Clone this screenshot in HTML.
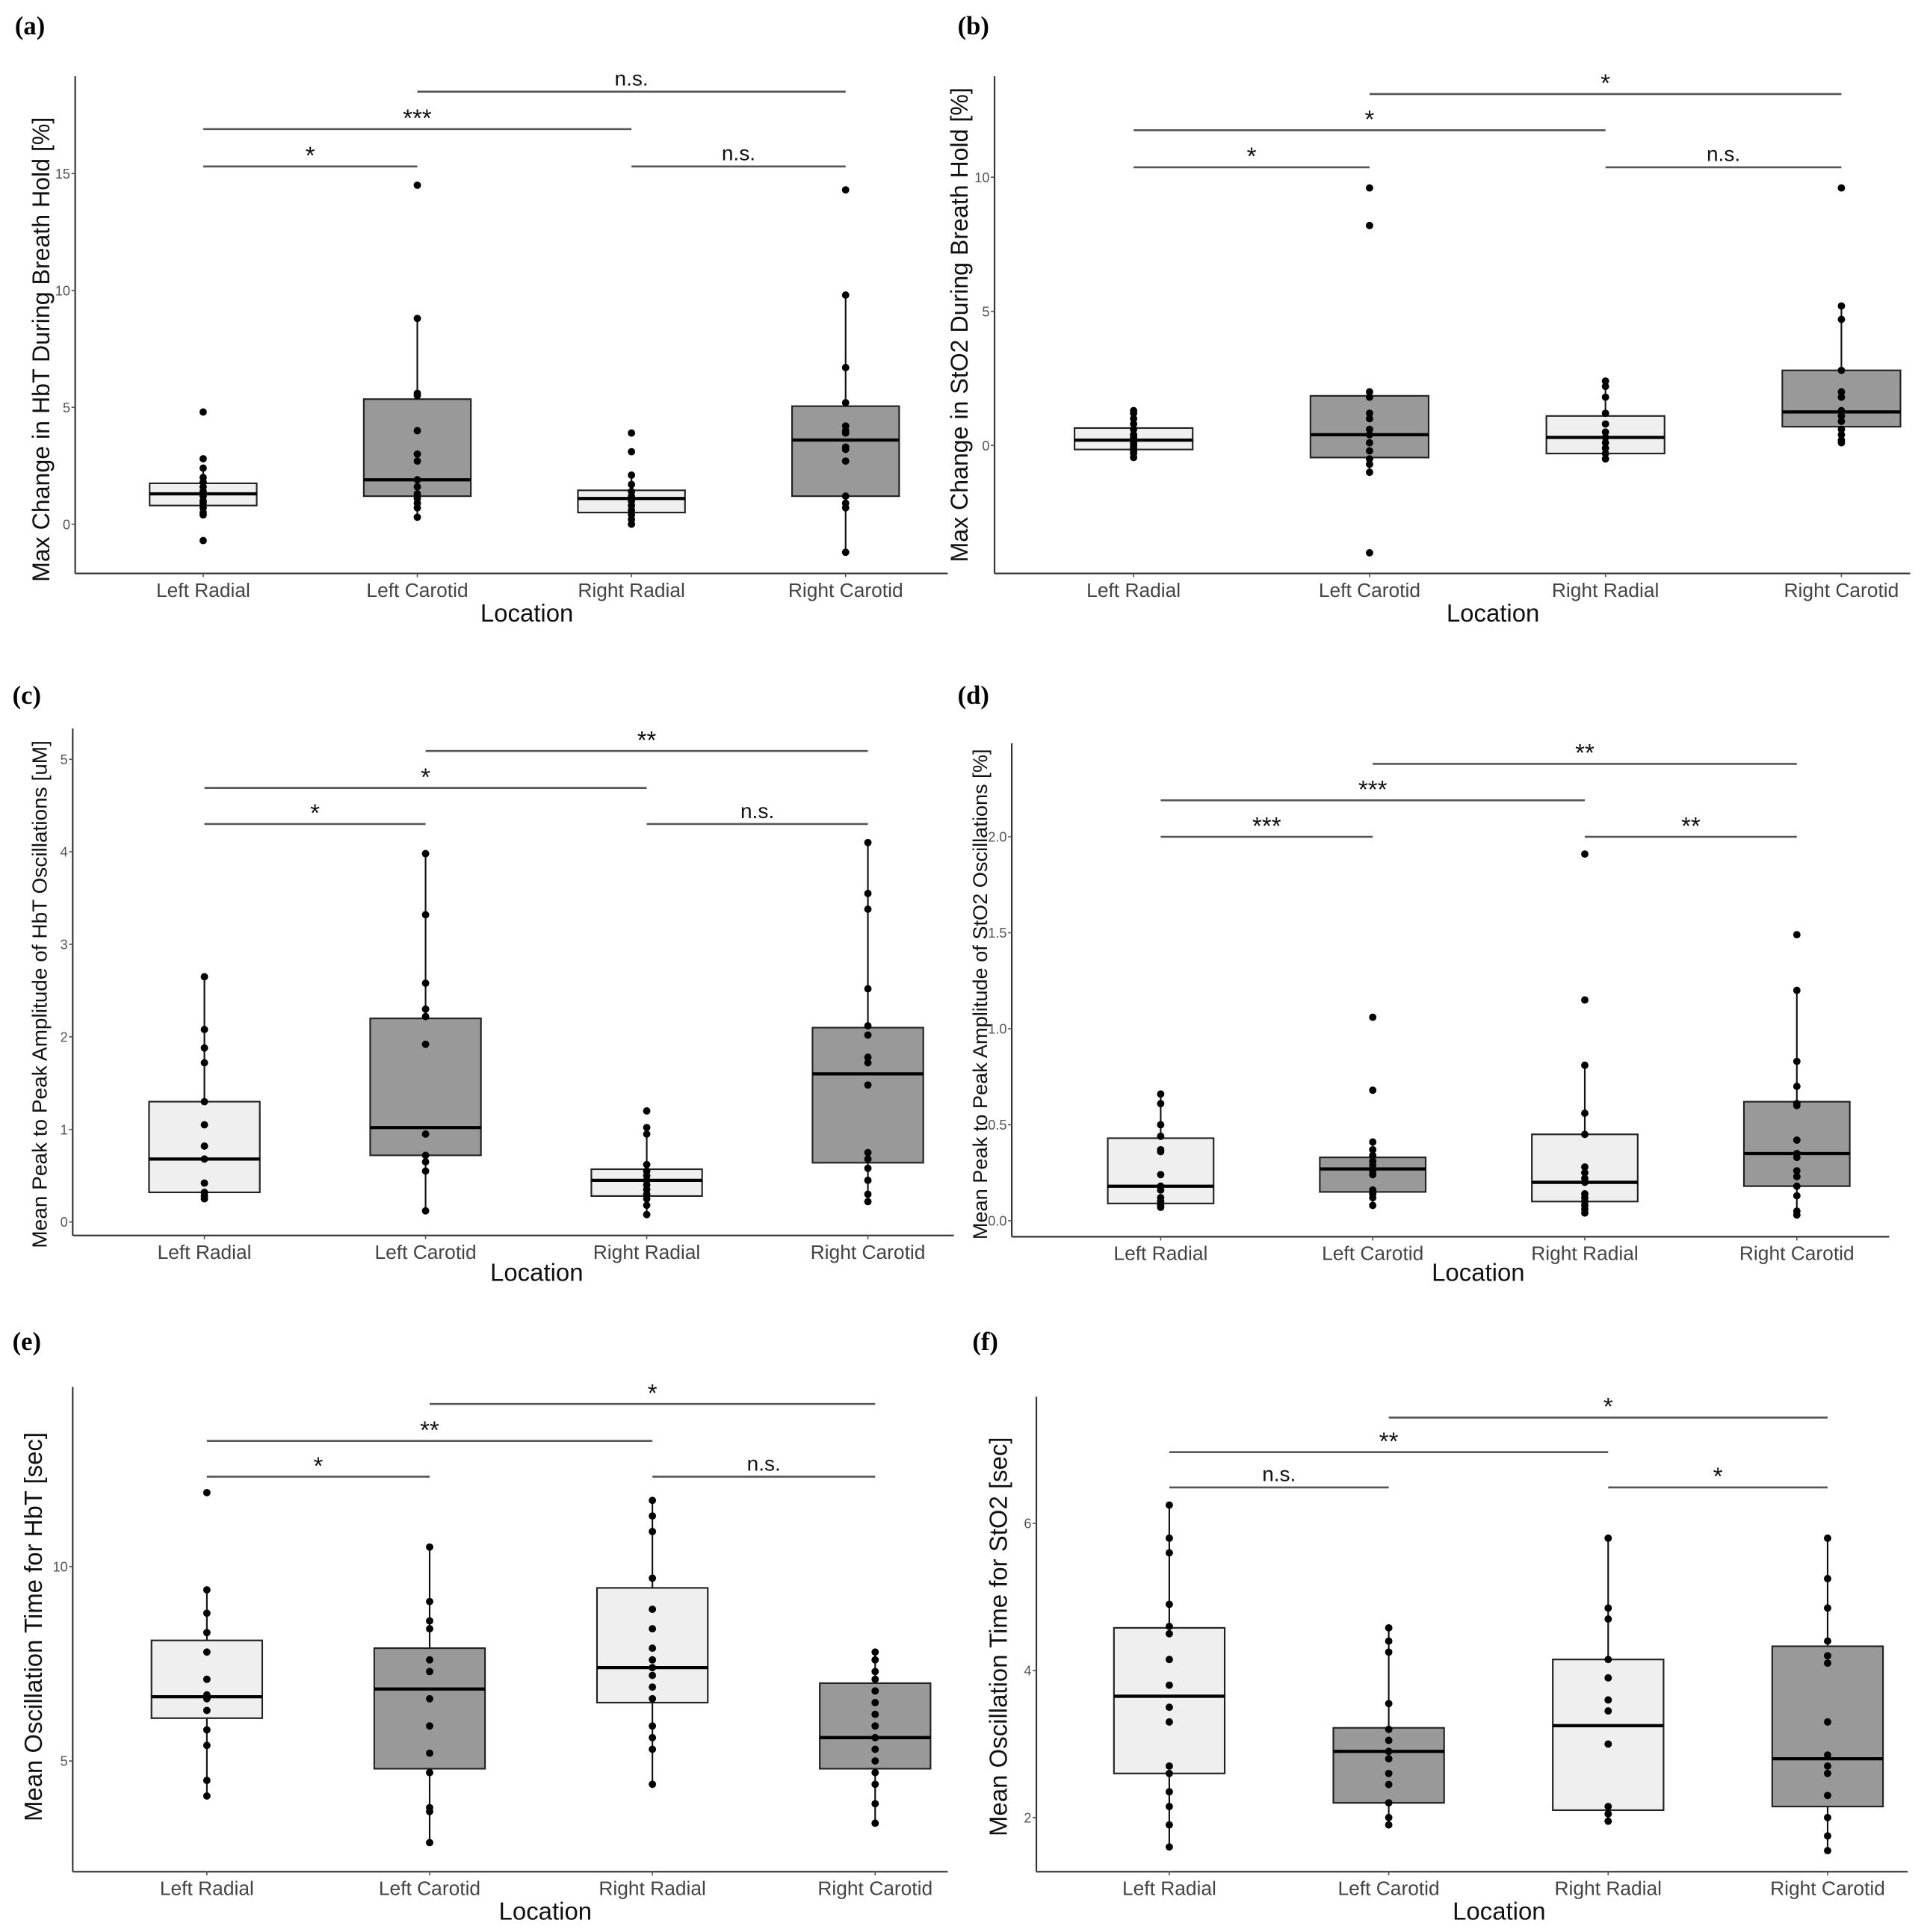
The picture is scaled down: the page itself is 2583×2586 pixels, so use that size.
<!DOCTYPE html>
<html><head><meta charset="utf-8">
<style>
html,body{margin:0;padding:0;background:#fff;}
svg{display:block;}
text{font-family:"Liberation Sans",sans-serif;}
</style></head>
<body>
<svg id="fig" width="2583" height="2586" viewBox="0 0 1568 1570" xmlns="http://www.w3.org/2000/svg"></svg>
<script>
const categories = ["Left Radial","Left Carotid","Right Radial","Right Carotid"];
const fills = ["#efefef","#999999","#efefef","#999999"];

// box stats per panel: [q1, median, q3, whiskerLow, whiskerHigh]
const boxesA = [[0.8,1.3,1.75,0.4,2.4],[1.2,1.9,5.35,0.3,8.8],[0.5,1.1,1.45,0,2.1],[1.2,3.6,5.05,-1.2,9.8]];
const pointsA = [[4.8,2.8,2.4,2.0,1.8,1.6,1.4,1.3,1.2,1.0,0.9,0.7,0.5,0.4,-0.7],
  [14.5,8.8,5.6,5.5,4.0,3.0,2.7,1.9,1.6,1.3,1.1,0.9,0.7,0.3],
  [3.9,3.1,2.1,1.7,1.4,1.2,1.0,0.8,0.6,0.4,0.2,0.0],
  [14.3,9.8,6.7,5.2,4.2,4.0,3.9,3.3,3.2,2.7,1.2,0.9,0.7,-1.2]];
const ticksA = [0,5,10,15];
const bracketsA = [[1,3,18.5,"n.s."],[0,2,16.9,"***"],[0,1,15.3,"*"],[2,3,15.3,"n.s."]];

const boxesB = [[-0.15,0.2,0.65,-0.45,1.3],[-0.45,0.4,1.85,-1.0,2.0],[-0.3,0.3,1.1,-0.5,2.4],[0.7,1.25,2.8,0.1,5.2]];
const pointsB = [[1.3,1.2,1.0,0.8,0.6,0.4,0.3,0.2,0.1,0,-0.1,-0.2,-0.3,-0.45],
  [9.6,8.2,2.0,1.8,1.2,1.0,0.6,0.4,0.1,-0.2,-0.5,-0.7,-1.0,-4.0],
  [2.4,2.2,1.8,1.2,0.8,0.5,0.3,0.1,-0.1,-0.3,-0.5],
  [9.6,5.2,4.7,2.8,2.0,1.8,1.3,1.1,0.9,0.6,0.4,0.2,0.1]];
const ticksB = [0,5,10];
const bracketsB = [[1,3,13.1,"*"],[0,2,11.75,"*"],[0,1,10.37,"*"],[2,3,10.37,"n.s."]];

const boxesC = [[0.32,0.68,1.3,0.25,2.65],[0.72,1.02,2.2,0.12,3.98],[0.28,0.45,0.57,0.08,1.02],[0.64,1.6,2.1,0.22,4.1]];
const pointsC = [[2.65,2.08,1.88,1.72,1.3,1.05,0.82,0.68,0.42,0.32,0.28,0.25],
  [3.98,3.32,2.58,2.3,2.22,1.92,0.95,0.72,0.65,0.55,0.12],
  [1.2,1.02,0.95,0.62,0.55,0.5,0.45,0.4,0.35,0.3,0.25,0.18,0.08],
  [4.1,3.55,3.38,2.52,2.12,2.02,1.78,1.72,1.48,0.75,0.68,0.58,0.45,0.3,0.22]];
const ticksC = [0,1,2,3,4,5];
const bracketsC = [[1,3,5.09,"**"],[0,2,4.69,"*"],[0,1,4.30,"*"],[2,3,4.30,"n.s."]];

const boxesD = [[0.09,0.18,0.43,0.07,0.66],[0.15,0.27,0.33,0.08,0.41],[0.1,0.2,0.45,0.04,0.81],[0.18,0.35,0.62,0.03,1.2]];
const pointsD = [[0.66,0.61,0.5,0.44,0.37,0.36,0.24,0.18,0.16,0.12,0.1,0.08,0.07],
  [1.06,0.68,0.41,0.37,0.34,0.31,0.29,0.26,0.24,0.16,0.14,0.12,0.08],
  [1.91,1.15,0.81,0.56,0.45,0.28,0.25,0.22,0.2,0.14,0.12,0.1,0.08,0.06,0.04],
  [1.49,1.2,0.83,0.7,0.61,0.6,0.42,0.35,0.33,0.26,0.23,0.18,0.13,0.05,0.03]];
const ticksD = [0,0.5,1.0,1.5,2.0];
const bracketsD = [[1,3,2.38,"**"],[0,2,2.19,"***"],[0,1,2.0,"***"],[2,3,2.0,"**"]];

const boxesE = [[6.1,6.65,8.1,4.1,9.4],[4.8,6.85,7.9,2.9,10.5],[6.5,7.4,9.45,4.4,11.7],[4.8,5.6,7.0,3.4,7.8]];
const pointsE = [[11.9,9.4,8.8,8.3,7.8,7.1,6.7,6.6,6.3,5.8,5.4,4.5,4.1],
  [10.5,9.1,8.6,8.4,7.6,7.3,6.6,5.9,5.2,4.7,3.8,3.7,2.9],
  [11.7,11.3,10.9,9.7,8.9,8.4,7.9,7.6,7.4,7.2,6.9,6.6,5.9,5.6,5.3,4.4],
  [7.8,7.6,7.3,7.1,6.8,6.5,6.2,5.9,5.6,5.3,5.0,4.7,4.4,3.9,3.4]];
const ticksE = [5,10];
const bracketsE = [[1,3,14.18,"*"],[0,2,13.23,"**"],[0,1,12.31,"*"],[2,3,12.31,"n.s."]];

const boxesF = [[2.6,3.65,4.58,1.6,6.25],[2.2,2.9,3.22,1.9,4.58],[2.1,3.25,4.15,1.95,5.8],[2.15,2.8,4.33,1.55,5.8]];
const pointsF = [[6.25,5.8,5.6,4.9,4.6,4.5,4.15,3.8,3.5,3.3,2.7,2.6,2.35,2.15,1.9,1.6],
  [4.58,4.4,4.25,3.55,3.2,3.05,2.9,2.8,2.6,2.45,2.2,2.0,1.9],
  [5.8,4.85,4.7,4.15,3.9,3.6,3.45,3.0,2.15,2.05,1.95],
  [5.8,5.25,4.85,4.4,4.2,4.1,3.3,2.85,2.7,2.6,2.3,2.0,1.75,1.55]];
const ticksF = [2,4,6];
const bracketsF = [[1,3,7.44,"*"],[0,2,6.97,"**"],[0,1,6.49,"n.s."],[2,3,6.49,"*"]];

const NS = "http://www.w3.org/2000/svg";
const svg = document.getElementById("fig");
function mk(tag, attrs, parent){
  const e = document.createElementNS(NS, tag);
  for (const k in attrs) e.setAttribute(k, attrs[k]);
  (parent||svg).appendChild(e);
  return e;
}

function panel(cfg){
  const g = mk("g", {});
  
  
  const y = v => cfg.y0 - v * cfg.k;
  const x = i => cfg.xs[0] + i * cfg.xs[1];

  const lab = mk("text", {x:cfg.lab[0], y:cfg.lab[1], "font-size":21, "font-weight":"bold", style:'font-family:"Liberation Serif",serif'}, g);
  lab.textContent = "(" + cfg.id + ")";
  
  

  const yax = mk("line", {x1:cfg.ax, y1:cfg.top, x2:cfg.ax, y2:cfg.bot, stroke:"#333", "stroke-width":1.3}, g);
  
  
  const xax = mk("line", {x1:cfg.ax, y1:cfg.bot, x2:cfg.right, y2:cfg.bot, stroke:"#333", "stroke-width":1.3}, g);
  
  

  cfg.ticks.forEach(t => {
    const tk = mk("line", {x1:cfg.ax-3, y1:y(t), x2:cfg.ax, y2:y(t), stroke:"#555", "stroke-width":1}, g);
    
    
    const tl = mk("text", {x:cfg.ax-4, y:y(t)+4, "font-size":11, fill:"#555", "text-anchor":"end"}, g);
    tl.textContent = cfg.dec ? t.toFixed(1) : String(t);
    
    
  });

  categories.forEach((c, i) => {
    const tk = mk("line", {x1:x(i), y1:cfg.bot, x2:x(i), y2:cfg.bot+3, stroke:"#555", "stroke-width":1}, g);
    
    
    const tl = mk("text", {x:x(i), y:cfg.bot+19, "font-size":16, fill:"#444", "text-anchor":"middle"}, g);
    tl.textContent = c;
    
    

    const b = cfg.boxes[i];
    const wl = mk("line", {x1:x(i), y1:y(b[3]), x2:x(i), y2:y(b[4]), stroke:"#111", "stroke-width":1.3}, g);
    
    
    const rect = mk("rect", {x:x(i)-cfg.hw, y:y(b[2]), width:2*cfg.hw, height:y(b[0])-y(b[2]), fill:fills[i], stroke:"#222", "stroke-width":1.3}, g);
    
    
    const md = mk("line", {x1:x(i)-cfg.hw, y1:y(b[1]), x2:x(i)+cfg.hw, y2:y(b[1]), stroke:"#000", "stroke-width":2.6}, g);
    
    
    cfg.points[i].forEach(v => {
      const p = mk("circle", {cx:x(i), cy:y(v), r:3, fill:"#000"}, g);
      
      
    });
  });

  cfg.brackets.forEach(br => {
    const l = mk("line", {x1:x(br[0]), y1:y(br[2]), x2:x(br[1]), y2:y(br[2]), stroke:"#555", "stroke-width":1.6}, g);
    
    
    const isNs = br[3] == "n.s.";
    const t = mk("text", {x:(x(br[0])+x(br[1]))/2, y:y(br[2]) - (isNs ? 5 : 2), "font-size":isNs ? 17 : 20, fill:"#111", "text-anchor":"middle"}, g);
    t.textContent = br[3];
    
    
  });

  const xt = mk("text", {x:cfg.xt[0], y:cfg.xt[1], "font-size":20, fill:"#111", "text-anchor":"middle"}, g);
  xt.textContent = "Location";
  
  
  const yt = mk("text", {x:0, y:0, "font-size":cfg.ytSize, fill:"#111", "text-anchor":"middle",
    transform:"translate(" + cfg.yt[0] + "," + cfg.yt[1] + ") rotate(-90)"}, g);
  yt.textContent = cfg.ytitle;
  
  
}

panel({id:"a", lab:[12,28], ax:61, top:62, bot:466, right:770, y0:426, k:19, xs:[165,174], hw:43.5,
  ticks:ticksA, boxes:boxesA, points:pointsA, brackets:bracketsA, xt:[428,505], yt:[40,284], ytSize:19.5,
  ytitle:"Max Change in HbT During Breath Hold [%]"});
panel({id:"b", lab:[778,28], ax:808, top:62, bot:466, right:1552, y0:362, k:21.8, xs:[921,191.7], hw:48,
  ticks:ticksB, boxes:boxesB, points:pointsB, brackets:bracketsB, xt:[1213,505], yt:[786,264], ytSize:19.5,
  ytitle:"Max Change in StO2 During Breath Hold [%]"});
panel({id:"c", lab:[10,572], ax:59, top:592, bot:1004, right:775, y0:993, k:75.2, xs:[166,179.7], hw:45,
  ticks:ticksC, boxes:boxesC, points:pointsC, brackets:bracketsC, xt:[436,1041], yt:[38,808], ytSize:17,
  ytitle:"Mean Peak to Peak Amplitude of HbT Oscillations [uM]"});
panel({id:"d", lab:[778,572], ax:822, top:604, bot:1005, right:1535, y0:992, k:156, xs:[943,172.3], hw:43, dec:true,
  ticks:ticksD, boxes:boxesD, points:pointsD, brackets:bracketsD, xt:[1201,1041], yt:[802,808], ytSize:16.5,
  ytitle:"Mean Peak to Peak Amplitude of StO2 Oscillations [%]"});
panel({id:"e", lab:[10,1097], ax:59, top:1127, bot:1521, right:770, y0:1589, k:31.6, xs:[168,181], hw:45,
  ticks:ticksE, boxes:boxesE, points:pointsE, brackets:bracketsE, xt:[443,1560], yt:[34,1322], ytSize:20,
  ytitle:"Mean Oscillation Time for HbT [sec]"});
panel({id:"f", lab:[790,1097], ax:842, top:1135, bot:1521, right:1550, y0:1596.5, k:59.75, xs:[950,178.3], hw:45,
  ticks:ticksF, boxes:boxesF, points:pointsF, brackets:bracketsF, xt:[1218,1560], yt:[818,1330], ytSize:20,
  ytitle:"Mean Oscillation Time for StO2 [sec]"});
</script>
</body></html>
